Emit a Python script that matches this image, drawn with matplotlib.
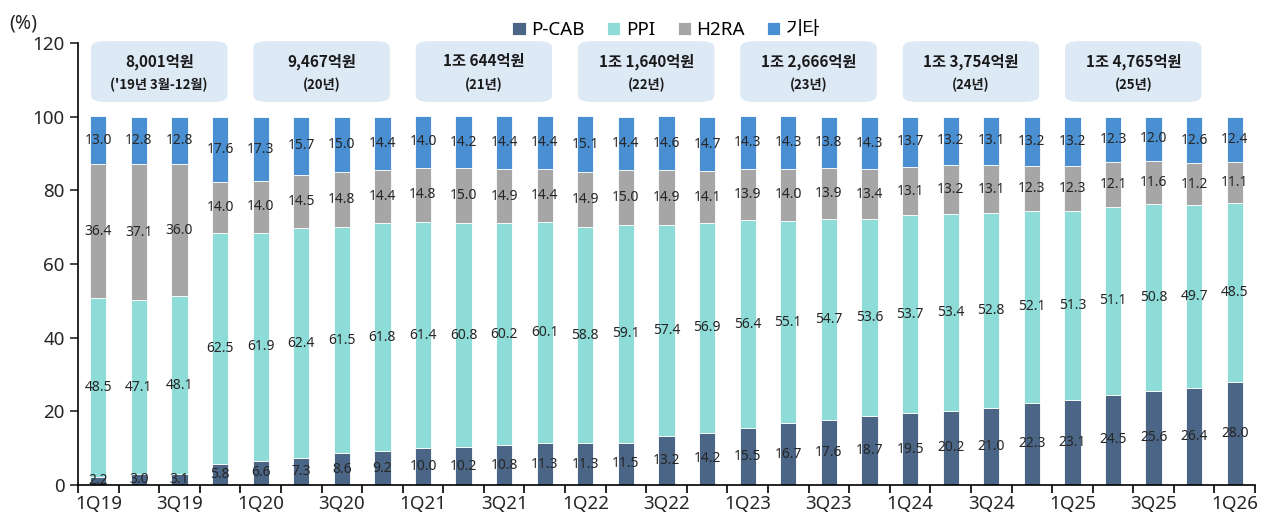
import matplotlib
matplotlib.use('Agg')
import matplotlib.pyplot as plt
from matplotlib.patches import FancyBboxPatch
import numpy as np

plt.rcParams['font.family'] = ['Noto Sans', 'Noto Sans CJK KR', 'DejaVu Sans']

quarters = ['1Q19', '2Q19', '3Q19', '4Q19', '1Q20', '2Q20', '3Q20', '4Q20',
            '1Q21', '2Q21', '3Q21', '4Q21', '1Q22', '2Q22', '3Q22', '4Q22',
            '1Q23', '2Q23', '3Q23', '4Q23', '1Q24', '2Q24', '3Q24', '4Q24',
            '1Q25', '2Q25', '3Q25', '4Q25', '1Q26']
pcab = [2.2, 3.0, 3.1, 5.8, 6.6, 7.3, 8.6, 9.2, 10.0, 10.2, 10.8, 11.3, 11.3, 11.5,
        13.2, 14.2, 15.5, 16.7, 17.6, 18.7, 19.5, 20.2, 21.0, 22.3, 23.1, 24.5,
        25.6, 26.4, 28.0]
ppi = [48.5, 47.1, 48.1, 62.5, 61.9, 62.4, 61.5, 61.8, 61.4, 60.8, 60.2, 60.1,
       58.8, 59.1, 57.4, 56.9, 56.4, 55.1, 54.7, 53.6, 53.7, 53.4, 52.8, 52.1,
       51.3, 51.1, 50.8, 49.7, 48.5]
h2ra = [36.4, 37.1, 36.0, 14.0, 14.0, 14.5, 14.8, 14.4, 14.8, 15.0, 14.9, 14.4,
        14.9, 15.0, 14.9, 14.1, 13.9, 14.0, 13.9, 13.4, 13.1, 13.2, 13.1, 12.3,
        12.3, 12.1, 11.6, 11.2, 11.1]
etc = [13.0, 12.8, 12.8, 17.6, 17.3, 15.7, 15.0, 14.4, 14.0, 14.2, 14.4, 14.4,
       15.1, 14.4, 14.6, 14.7, 14.3, 14.3, 13.8, 14.3, 13.7, 13.2, 13.1, 13.2,
       13.2, 12.3, 12.0, 12.6, 12.4]

# 연간 시장 규모 박스 (시작 분기 index, 첫줄, 둘째줄)
box_pos = [0, 4, 8, 12, 16, 20, 24]
box_line1 = ['8,001억원', '9,467억원', '1조 644억원', '1조 1,640억원',
             '1조 2,666억원', '1조 3,754억원', '1조 4,765억원']
box_line2 = ["('19년 3월-12월)", '(20년)', '(21년)', '(22년)', '(23년)', '(24년)', '(25년)']

series = [('P-CAB', pcab, '#4a6585'), ('PPI', ppi, '#8ddcd8'),
          ('H2RA', h2ra, '#a6a6a6'), ('기타', etc, '#4a8fd2')]

fig = plt.figure(figsize=(12.73, 5.2), dpi=100)
ax = fig.add_axes([0.0613, 0.0673, 0.9246, 0.8500])

x = np.arange(len(quarters))
bottom = np.zeros(len(quarters))
for name, vals, col in series:
    v = np.array(vals)
    ax.bar(x, v, 0.4, bottom=bottom, color=col, label=name,
           edgecolor='white', linewidth=0.6)
    for xi, b, h in zip(x, bottom, v):
        ax.text(xi, b + h / 2, f'{h:.1f}', ha='center', va='center',
                fontsize=10, color='#262626')
    bottom = bottom + v

kr = ['Noto Sans CJK KR', 'DejaVu Sans']
for p, l1, l2 in zip(box_pos, box_line1, box_line2):
    cx = p + 1.5
    box = FancyBboxPatch((cx - 1.68, 104.0), 3.36, 16.5,
                         boxstyle='round,pad=0,rounding_size=0.35',
                         mutation_aspect=5, facecolor='#dde9f5',
                         edgecolor='none', clip_on=False, zorder=3)
    ax.add_patch(box)
    ax.text(cx, 115.0, l1, ha='center', va='center', fontsize=11,
            fontweight='bold', color='#1a1a1a', zorder=4, family=kr)
    ax.text(cx, 108.6, l2, ha='center', va='center', fontsize=9.5,
            fontweight='bold', color='#1a1a1a', zorder=4, family=kr)

ax.set_xlim(-0.5, len(quarters) - 0.5)
ax.set_ylim(0, 120)
ax.set_yticks(range(0, 121, 20))
ax.set_xticks(x[::2])
ax.set_xticklabels(quarters[::2])
ax.set_xticks(np.arange(-0.5, len(quarters), 1), minor=True)
ax.tick_params(axis='x', which='major', length=0, labelsize=13.5, pad=7, colors='#262626')
ax.tick_params(axis='x', which='minor', length=6, width=1.2, direction='out')
ax.tick_params(axis='y', labelsize=13.5, length=6, width=1.2, colors='#262626')
for s in ['top', 'right']:
    ax.spines[s].set_visible(False)
ax.spines['left'].set_linewidth(1.2)
ax.spines['bottom'].set_linewidth(1.2)

fig.text(0.007, 0.955, '(%)', fontsize=14, color='#262626', va='center')
ax.legend(loc='center', bbox_to_anchor=(0.5, 1.03), ncol=4, frameon=False,
          fontsize=13.5, handlelength=0.7, handleheight=0.7, handletextpad=0.3,
          columnspacing=1.2)

fig.savefig('out.png', dpi=100)
